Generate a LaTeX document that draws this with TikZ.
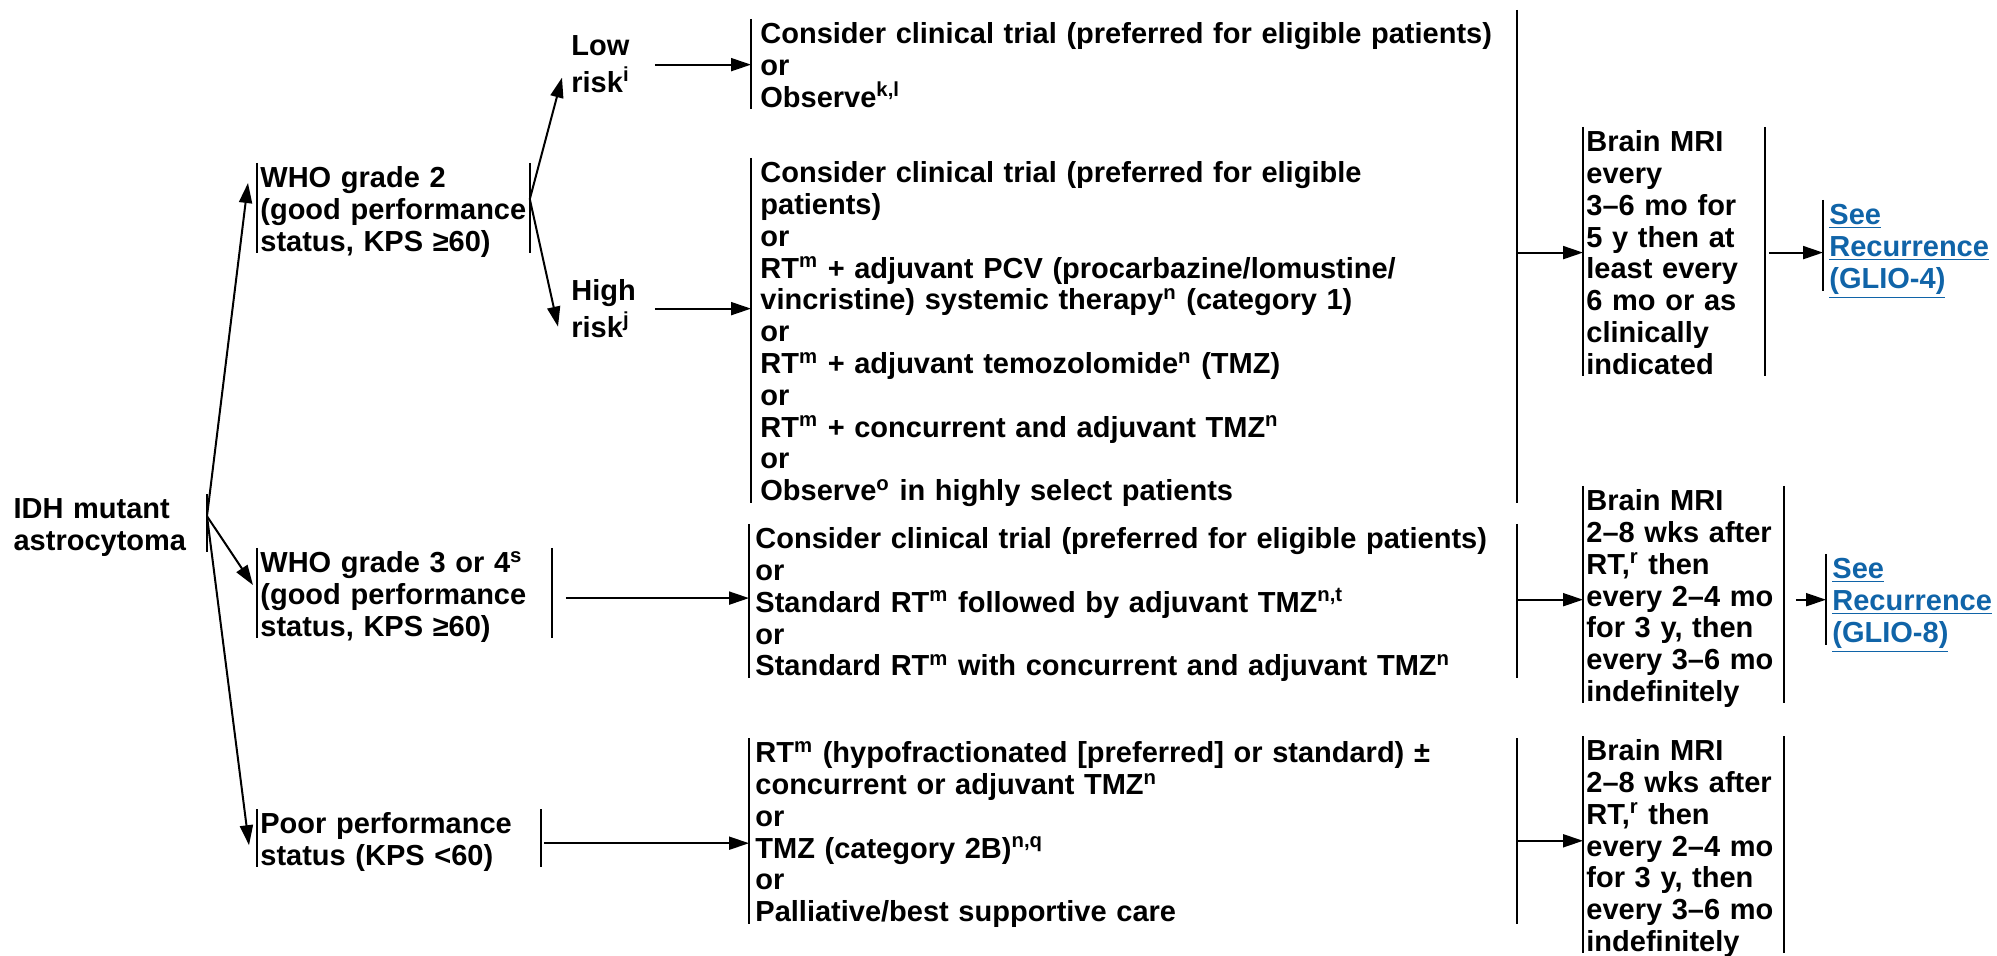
\documentclass[tikz,border=0pt]{standalone}
\usepackage{fontspec}
\setmainfont{Liberation Sans}
\usepackage{tikz}
\usetikzlibrary{arrows.meta, positioning, calc}
\definecolor{linkblue}{RGB}{16,100,168}
\newcommand{\refmark}[1]{\textsuperscript{#1}}
\tikzset{
  every node/.append style={font=\bfseries\fontsize{14.5}{15.9}\selectfont, align=left,
    inner xsep=1.5pt, inner ysep=1pt, execute at begin node=\strut, execute at end node=\strut},
  vbar/.style={-, line width=1.25pt},
  lbar/.style={append after command={(\tikzlastnode.north west) edge[vbar] ([yshift=5pt]\tikzlastnode.south west)}},
  rbar/.style={append after command={(\tikzlastnode.north east) edge[vbar] ([yshift=5pt]\tikzlastnode.south east)}},
  bars/.style={lbar, rbar},
  grp/.style={bars, anchor=north west},
  risk/.style={anchor=north west, text width=40pt},
  tx/.style={lbar, anchor=north west, inner xsep=4.5pt, text width=373.5pt},
  mri/.style={bars, anchor=north west},
  link/.style={lbar, anchor=north west, text=linkblue, inner xsep=3pt, text width=81pt},
  arrow/.style={->, >={Triangle[length=10pt,width=6.5pt]}, line width=1pt}
}
\begin{document}
\begin{tikzpicture}[x=0.5pt, y=-0.5pt]
  \useasboundingbox (0,0) rectangle (1997,956);
  % diagnosis
  \node[rbar, anchor=north east, text width=95pt] (idh) at (207,494) {IDH mutant\\astrocytoma};
  % grade and performance status
  \node[grp, text width=133pt] (who2) at (257,163) {WHO grade 2\\(good~performance\\status, KPS ≥60)};
  \node[grp, text width=144pt] (who34) at (257,548) {WHO grade 3 or 4\refmark{s}\\(good performance\\status, KPS ≥60)};
  \node[grp, text width=138.5pt] (poor) at (257,809) {Poor performance\\status (KPS <60)};
  \node[risk] (low) at (568,31) {Low\\risk\refmark{i}};
  \node[risk] (high) at (568,276) {High\\risk\refmark{j}};
  % treatment
  \node[tx] (lowtx) at (751,19) {Consider clinical trial (preferred for eligible patients)\\or\\Observe\refmark{k,l}};
  \node[tx] (hightx) at (751,158) {Consider clinical trial (preferred for eligible\\patients)\\or\\RT\refmark{m} + adjuvant PCV (procarbazine/lomustine/\\vincristine) systemic therapy\refmark{n} (category 1)\\or\\RT\refmark{m} + adjuvant temozolomide\refmark{n} (TMZ)\\or\\RT\refmark{m} + concurrent and adjuvant TMZ\refmark{n}\\or\\Observe\refmark{o} in highly select patients};
  \node[tx, rbar, inner xsep=3pt, text width=377.5pt] (g3tx) at (749,524) {Consider clinical trial (preferred for eligible patients)\\or\\Standard RT\refmark{m} followed by adjuvant TMZ\refmark{n,t}\\or\\Standard RT\refmark{m} with concurrent and adjuvant TMZ\refmark{n}};
  \node[tx, rbar, inner xsep=3pt, text width=377.5pt] (g4tx) at (749,738) {RT\refmark{m} (hypofractionated [preferred] or standard) ±\\concurrent or adjuvant TMZ\refmark{n}\\or\\TMZ (category 2B)\refmark{n,q}\\or\\Palliative/best supportive care};
  % follow-up
  \node[mri, text width=87.5pt] (mri1) at (1583,127) {Brain MRI\\every\\3--6 mo for\\5 y then at\\least every\\6 mo or as\\clinically\\indicated};
  \node[mri, text width=97pt] (mri2) at (1583,486) {Brain MRI\\2--8 wks after\\RT,\refmark{r} then\\every 2--4 mo\\for 3 y, then\\every 3--6 mo\\indefinitely};
  \node[mri, text width=97pt] (mri3) at (1583,736) {Brain MRI\\2--8 wks after\\RT,\refmark{r} then\\every 2--4 mo\\for 3 y, then\\every 3--6 mo\\indefinitely};
  \node[link] (see1) at (1823,200) {\underline{See}\\\underline{Recurrence}\\\underline{(GLIO-4)}};
  \node[link] (see2) at (1826,554) {\underline{See}\\\underline{Recurrence}\\\underline{(GLIO-8)}};
  % connectors
  \draw[arrow] ([yshift=6pt]idh.east) -- ([xshift=-4.5pt,yshift=-10pt]who2.north west);
  \draw[arrow] ([yshift=6pt]idh.east) -- ([xshift=-2pt,yshift=6.5pt]who34.west);
  \draw[arrow] ([yshift=6pt]idh.east) -- ([xshift=-4pt,yshift=-1pt]poor.west);
  \draw[arrow] ([yshift=7pt]who2.east) -- ([xshift=-3pt,yshift=-5pt]low.west);
  \draw[arrow] ([yshift=7pt]who2.east) -- ([xshift=-5pt,yshift=-7pt]high.west);
  \draw[arrow] ([yshift=1.5pt]low.east) -- ([yshift=1.5pt]low.east -| lowtx.west);
  \draw[arrow] ([yshift=2pt]high.east) -- ([yshift=2pt]high.east -| hightx.west);
  \draw[arrow, shorten <=7pt] (who34.east) -- (who34.east -| g3tx.west);
  \draw[arrow, shorten <=1.5pt] (poor.east) -- (poor.east -| g4tx.west);
  \draw[vbar] ([yshift=4.5pt]lowtx.north east) -- ([yshift=5pt]hightx.south east);
  \draw[arrow] ([yshift=2pt]mri1.west -| lowtx.east) -- ([yshift=2pt]mri1.west);
  \draw[arrow] (mri2.west -| g3tx.east) -- (mri2.west);
  \draw[arrow] ([yshift=-2.5pt]g4tx.east) -- ([yshift=-2.5pt]g4tx.east -| mri3.west);
  \draw[arrow, shorten <=2pt] ([yshift=2pt]mri1.east) -- ([yshift=2pt]mri1.east -| see1.west);
  \draw[arrow, shorten <=6pt] (mri2.east) -- (mri2.east -| see2.west);
\end{tikzpicture}
\end{document}
